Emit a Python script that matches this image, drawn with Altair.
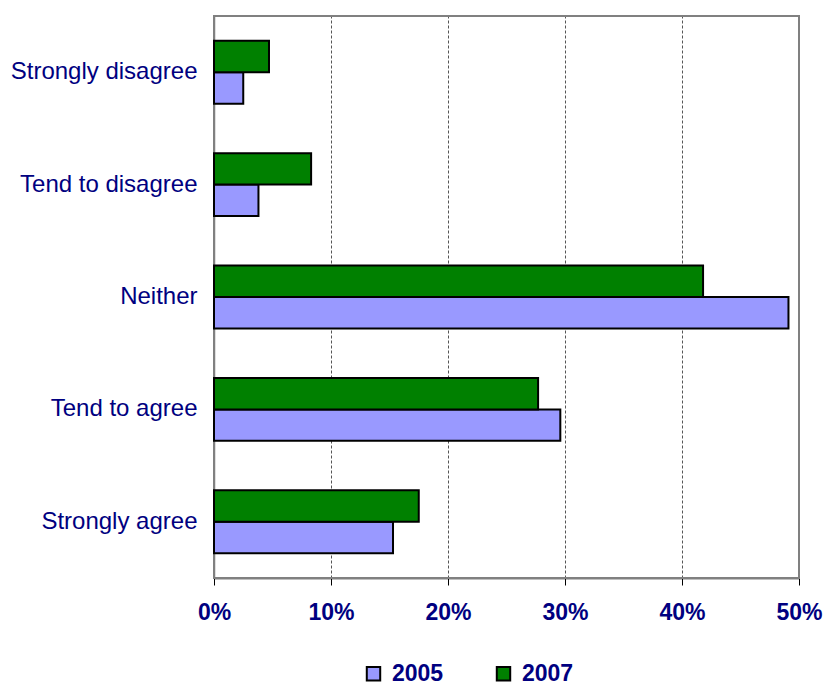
import altair as alt
import pandas as pd

categories = ["Strongly disagree", "Tend to disagree", "Neither", "Tend to agree", "Strongly agree"]
years = ["2005", "2007"]
values_2005 = [2.5, 3.8, 49.1, 29.6, 15.3]
values_2007 = [4.7, 8.3, 41.8, 27.7, 17.5]

rows = []
for cat, v5, v7 in zip(categories, values_2005, values_2007):
    rows.append({"category": cat, "year": "2005", "value": v5 / 100})
    rows.append({"category": cat, "year": "2007", "value": v7 / 100})
df = pd.DataFrame(rows)

NAVY = "#000080"
FONT = "Liberation Sans"
W, H = 585, 562

bars = alt.Chart(df).mark_bar(stroke="black", strokeWidth=2).encode(
    y=alt.Y(
        "category:N",
        sort=categories,
        title=None,
        scale=alt.Scale(paddingInner=0.44, paddingOuter=0.22),
        axis=alt.Axis(
            labelFont=FONT, labelFontSize=24, labelColor=NAVY,
            labelPadding=17, ticks=False, domainColor="#808080",
            domainWidth=1.5, grid=False, labelLimit=300,
        ),
    ),
    yOffset=alt.YOffset("year:N", sort=["2007", "2005"], scale=alt.Scale(paddingInner=0, paddingOuter=0)),
    x=alt.X(
        "value:Q",
        title=None,
        scale=alt.Scale(domain=[0, 0.5], nice=False),
        axis=alt.Axis(
            format="%", values=[0, 0.1, 0.2, 0.3, 0.4, 0.5],
            labelFont=FONT, labelFontSize=23, labelFontWeight="bold",
            labelColor=NAVY, labelPadding=16, tickSize=7, tickColor="black",
            labelFlush=False, labelBound=False,
            domainColor="black", domainWidth=1.5,
            grid=True, gridColor="#555555", gridDash=[3, 2], gridWidth=1,
        ),
    ),
    color=alt.Color(
        "year:N",
        scale=alt.Scale(domain=years, range=["#9999FF", "#008000"]),
        legend=alt.Legend(
            title=None, orient="none", legendX=148, legendY=646,
            direction="horizontal", symbolType="square", symbolSize=180,
            symbolStrokeColor="black", symbolStrokeWidth=2,
            labelFont=FONT, labelFontSize=23, labelFontWeight="bold",
            labelColor=NAVY, columnPadding=48, labelOffset=7,
        ),
    ),
)

# gray frame along the top and right edges of the plot area
frame = alt.Chart(pd.DataFrame({"k": [0]})).mark_rect(
    fill=None, stroke="#808080", strokeWidth=2
).encode(
    x=alt.value(0), x2=alt.value(W), y=alt.value(0), y2=alt.value(H)
)

chart = alt.layer(frame, bars).properties(
    width=W,
    height=H,
    autosize=alt.AutoSizeParams(type="none"),
    padding={"left": 214, "top": 16, "right": 29, "bottom": 109},
).configure_view(
    stroke=None,
).configure(background="white")

chart.save("out.html", embed_options={"renderer": "svg", "actions": False})
